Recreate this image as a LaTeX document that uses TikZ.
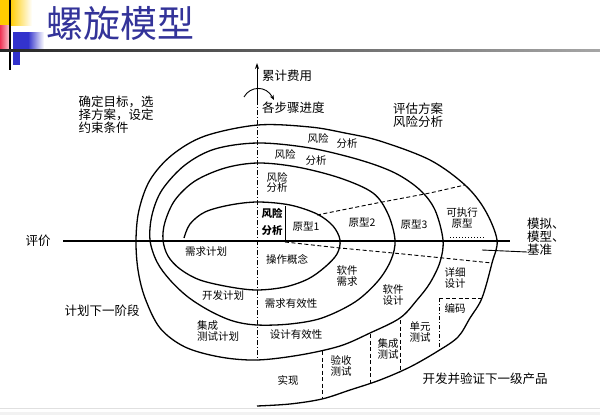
\documentclass[tikz,border=0pt]{standalone}
\usepackage{fontspec}
\newfontfamily\cjk{Noto Sans CJK SC}
\usetikzlibrary{arrows.meta}
\definecolor{titleblue}{HTML}{333399}
\definecolor{hdryellow}{HTML}{FFCC00}
\definecolor{hdrred}{HTML}{EE3355}
\definecolor{hdrblue}{HTML}{3333CC}

\begin{document}
\begin{tikzpicture}[x=1pt, y=-1pt,
  every node/.style={font=\cjk\fontsize{10.5}{11.5}\selectfont, inner sep=0pt, align=center},
  big/.style={font=\cjk\fontsize{12.5}{13.2}\selectfont},
  spiral/.style={line width=1.3pt, smooth, tension=0.55},
  cut/.style={line width=0.9pt, dash pattern=on 4pt off 2.5pt},
  axisline/.style={line width=1.6pt}]
\useasboundingbox (0,0) rectangle (600,415);
% slide header
\fill[hdryellow] (0,0) rectangle (10,25);
\shade[left color=hdryellow, right color=white] (10,0) rectangle (32,25);
\shade[left color=hdrred, right color=hdrred!30] (0,25) rectangle (9,50);
\fill[hdrblue] (13,32) rectangle (28,50);
\shade[left color=hdrblue, right color=white] (28,32) rectangle (44,50);
\fill[hdrblue] (13,50) rectangle (20,65);
\draw[line width=1.2pt] (10,0) -- (10,70);
\shade[left color=black!85, right color=black!35] (0,49) rectangle (600,51);
\node[font=\cjk\fontsize{37}{38}\selectfont, text=titleblue] (title) at (120,23) {螺旋模型};
% slide footer
\draw[black!12, line width=1pt] (0,408) -- (600,408);
\fill[black!5] (0,412) rectangle (600,415);

% axes
\coordinate (west) at (63,241);
\coordinate (east) at (510,241);
\coordinate (top) at (257,63);
\coordinate (topsolid) at (257,100);
\coordinate (bottom) at (257,360);
\draw[axisline] (west) -- (east);
\draw[line width=0.9pt, -{Stealth[length=6pt, width=4pt]}] (topsolid) -- (top);
\draw[line width=0.8pt, dash pattern=on 5pt off 2pt on 1pt off 2pt] (topsolid) -- (bottom);
\draw[line width=0.9pt, -{Stealth[length=5pt, width=4pt]}] (244,97) .. controls (250,86) and (266,85) .. (274,100);

% the spiral
\draw[spiral] plot coordinates {
  (184,238) (190,224) (205,212) (230,205) (258,202) (290,205) (317,214) (333,226) (340,240)
  (337,254) (325,267) (308,279) (285,287) (257,290) (230,287) (200,280) (180,269) (168,256) (163,240)
  (165,222) (175,200) (195,181) (225,168) (258,163) (297,167) (340,178) (373,193) (388,214) (395,240)
  (391,260) (378,281) (355,302) (322,318) (290,324) (257,325) (233,321) (210,311) (188,297) (170,280) (157,262) (150,240)
  (152,215) (162,190) (185,165) (215,149) (258,143) (310,148) (360,160) (395,173) (420,190) (435,210) (443,240)
  (440,262) (430,283) (417,300) (400,318) (370,333) (340,346) (300,355) (257,360) (220,357) (185,347) (160,328) (145,298) (138,270) (136,240)
  (139,210) (150,180) (172,155) (205,136) (258,125) (310,127) (345,133) (380,141) (430,160) (465,185) (485,210) (497,240)
  (492,263) (482,298) (470,318) (458,337) (438,351) (410,367) (380,380) (350,390) (322,399) (290,404) (257,406)};

% dividing lines
\draw[cut] (317,215) -- (377,203) -- (430,193) -- (465,185);
\draw[cut] (285,242) -- (340,248) -- (393,253) -- (443,258) -- (492,263);
\draw[line width=0.7pt] (285,206) -- (285,240);
\draw[line width=1pt, dotted] (450,237) -- (485,237);
\draw[cut] (439,298) -- (482,298);
\draw[line width=0.8pt, dash pattern=on 4pt off 2pt on 1pt off 2pt] (439,298) -- (439,349);
\draw[cut] (400,320) -- (400,372);
\draw[cut] (370,334) -- (370,383);
\draw[cut] (322,351) -- (322,399);
\coordinate (simlead) at (527,252);
\draw[line width=0.9pt] (482,250) -- (simlead);

% quadrant texts
\node[big, align=left] (goals) at (116,115) {确定目标，选\\择方案，设定\\约束条件};
\node[big, align=left] (assess) at (418,115) {评估方案\\风险分析};
\node[big, anchor=west] (cost) at (262,76) {累计费用};
\node[big, anchor=west] (steps) at (262,108) {各步骤进度};
\node[big] (judge) at (38,241) {评价};
\node[big] (nextphase) at (102,311) {计划下一阶段};
\node[big, align=left, anchor=west] (sim) at (527,237) {模拟、\\模型、\\基准};
\node[big] (develop) at (485,379) {开发并验证下一级产品};

% risk analysis bands
\node (risk3a) at (318,138) {风险};
\node (risk3b) at (347,144) {分析};
\node (risk2a) at (285,154) {风险};
\node (risk2b) at (316,161) {分析};
\node (risk1a) at (277,177) {风险};
\node (risk1b) at (277,188) {分析};
\node[font=\cjk\bfseries\fontsize{10.5}{17}\selectfont] (risk0) at (272,222) {风险\\分析};

% prototypes
\node (proto1) at (306,227) {原型1};
\node (proto2) at (362,223) {原型2};
\node (proto3) at (414,225) {原型3};
\node (protox) at (462,218) {可执行\\原型};

% lower half
\node (reqplan) at (206,252) {需求计划};
\node (devplan) at (223,296) {开发计划};
\node[align=left] (itplan) at (218,331) {集成\\测试计划};
\node (concept) at (287,259) {操作概念};
\node (swreq) at (347,276) {软件\\需求};
\node (reqvalid) at (291,304) {需求有效性};
\node (swdesign) at (393,295) {软件\\设计};
\node (desvalid) at (296,335) {设计有效性};
\node (detail) at (455,278) {详细\\设计};
\node (coding) at (455,308) {编码};
\node (unittest) at (420,332) {单元\\测试};
\node (inttest) at (388,349) {集成\\测试};
\node (acctest) at (341,366) {验收\\测试};
\node (impl) at (288,380) {实现};
\end{tikzpicture}
\end{document}
